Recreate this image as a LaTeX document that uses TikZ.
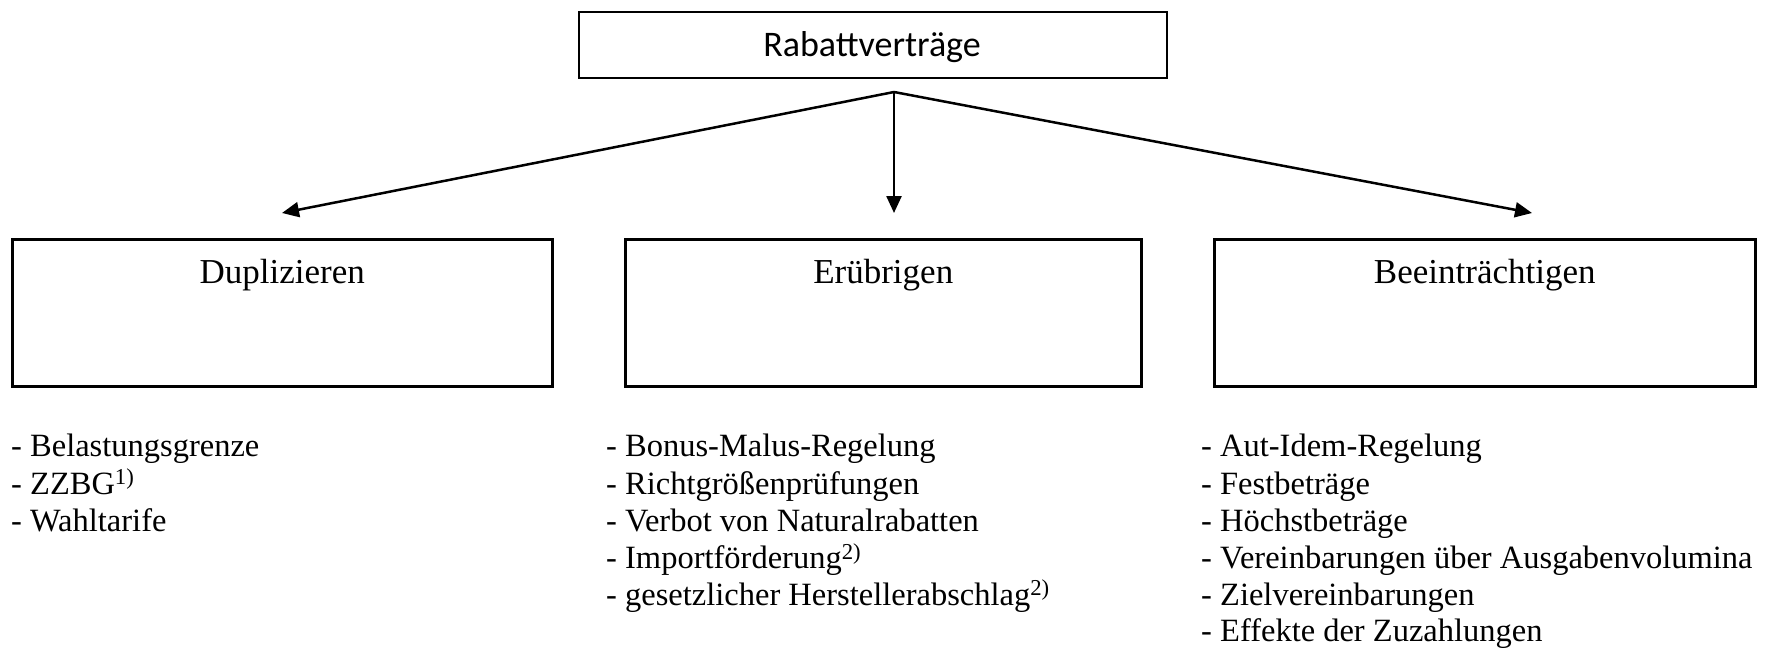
\documentclass[tikz,border=0pt]{standalone}
\usepackage{fontspec}
\setmainfont{Liberation Serif}
\newfontfamily\calibri{Carlito}
\usetikzlibrary{arrows.meta}
\begin{document}
\begin{tikzpicture}[x=1pt,y=-1pt,
  boxstyle/.style={draw,line width=2.5pt,inner sep=0pt,anchor=north west},
  topstyle/.style={draw,line width=2pt,inner sep=0pt,anchor=north west},
  titlestyle/.style={inner sep=0pt,anchor=base,font=\fontsize{35}{41}\selectfont},
  itemstyle/.style={inner sep=0pt,anchor=base west,font=\fontsize{32.5}{37}\selectfont},
  conn/.style={line width=2.5pt,-{Triangle[length=17pt,width=15pt]}}]
\useasboundingbox (0,0) rectangle (1767,650);
% top box
\node[topstyle,minimum width=588pt,minimum height=66pt] (top) at (578,11) {};
\node[inner sep=0pt,anchor=base,font=\calibri\fontsize{36}{42}\selectfont] (toptext) at (872,56.7) {Rabattverträge};
% sub boxes
\node[boxstyle,minimum width=540pt,minimum height=147pt] (dup) at (11,238) {};
\node[boxstyle,minimum width=516pt,minimum height=147pt] (eru) at (624,238) {};
\node[boxstyle,minimum width=541pt,minimum height=147pt] (bee) at (1213,238) {};
\node[titlestyle] (duptext) at (dup.north |- 0,283.3) {Duplizieren};
\node[titlestyle] (erutext) at (eru.north |- 0,283.3) {Erübrigen};
\node[titlestyle] (beetext) at (bee.north |- 0,283.3) {Beeinträchtigen};
% connectors
\coordinate (apex) at (894,92);
\coordinate (tipl) at (282,213);
\coordinate (tipm) at (894,213);
\coordinate (tipr) at (1532,213);
\draw[conn] (apex) -- (tipl);
\draw[conn] (apex) -- (tipm);
\draw[conn] (apex) -- (tipr);
% lists
\node[itemstyle] (l1) at (11,456.7) {- Belastungsgrenze};
\node[itemstyle] (l2) at (11,494) {- ZZBG\textsuperscript{1)}};
\node[itemstyle] (l3) at (11,531.3) {- Wahltarife};
\node[itemstyle] (m1) at (606,456.7) {- Bonus-Malus-Regelung};
\node[itemstyle] (m2) at (606,494) {- Richtgrößenprüfungen};
\node[itemstyle] (m3) at (606,531.3) {- Verbot von Naturalrabatten};
\node[itemstyle] (m4) at (606,568.3) {- Importförderung\textsuperscript{2)}};
\node[itemstyle] (m5) at (606,605) {- gesetzlicher Herstellerabschlag\textsuperscript{2)}};
\node[itemstyle] (r1) at (1201,456.7) {- Aut-Idem-Regelung};
\node[itemstyle] (r2) at (1201,494) {- Festbeträge};
\node[itemstyle] (r3) at (1201,531.3) {- Höchstbeträge};
\node[itemstyle] (r4) at (1201,568.3) {- Vereinbarungen über Ausgabenvolumina};
\node[itemstyle] (r5) at (1201,605) {- Zielvereinbarungen};
\node[itemstyle] (r6) at (1201,641.7) {- Effekte der Zuzahlungen};
\end{tikzpicture}
\end{document}
